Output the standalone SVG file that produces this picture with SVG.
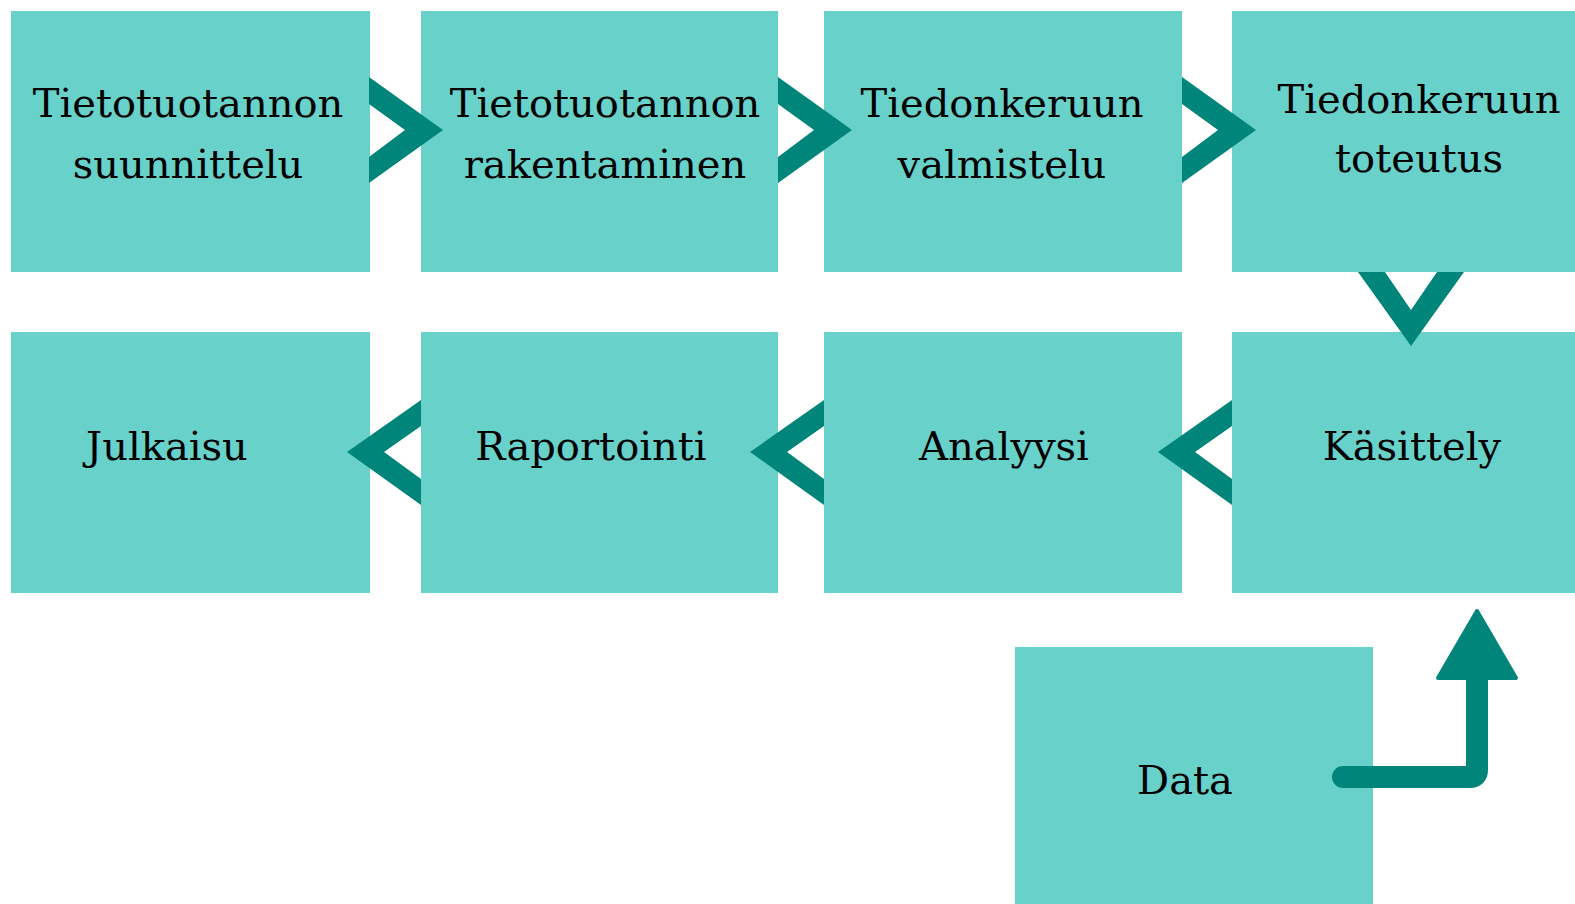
<svg xmlns="http://www.w3.org/2000/svg" width="1575" height="904" viewBox="0 0 1575 904">
<style>
.box{fill:#67d1ca}
.lbl{font-family:"DejaVu Serif","Liberation Serif",serif;font-size:40px;fill:#000;text-anchor:middle}
.chev{fill:#00857a}
.conn{fill:none;stroke:#00857a;stroke-width:22}
</style>
<rect width="1575" height="904" fill="#ffffff"/>
<g id="n1"><rect class="box" x="11" y="11" width="359" height="261"/><text class="lbl" x="188" y="117">Tietotuotannon</text><text class="lbl" x="188" y="178">suunnittelu</text></g>
<g id="n2"><rect class="box" x="421" y="11" width="357" height="261"/><text class="lbl" x="605" y="117">Tietotuotannon</text><text class="lbl" x="605" y="178">rakentaminen</text></g>
<g id="n3"><rect class="box" x="824" y="11" width="358" height="261"/><text class="lbl" x="1002" y="117">Tiedonkeruun</text><text class="lbl" x="1002" y="178">valmistelu</text></g>
<g id="n4"><rect class="box" x="1232" y="11" width="343" height="261"/><text class="lbl" x="1419" y="113">Tiedonkeruun</text><text class="lbl" x="1419" y="172">toteutus</text></g>
<g id="n5"><rect class="box" x="1232" y="332" width="343" height="261"/><text class="lbl" x="1412" y="460">Käsittely</text></g>
<g id="n6"><rect class="box" x="824" y="332" width="358" height="261"/><text class="lbl" x="1004" y="460">Analyysi</text></g>
<g id="n7"><rect class="box" x="421" y="332" width="357" height="261"/><text class="lbl" x="591" y="460">Raportointi</text></g>
<g id="n8"><rect class="box" x="11" y="332" width="359" height="261"/><text class="lbl" x="167" y="460">Julkaisu</text></g>
<g id="n9"><rect class="box" x="1015" y="647" width="358" height="257"/><text class="lbl" x="1185" y="794">Data</text></g>
<g id="connectors">
<polygon class="chev" points="369,77 443,130 369,183 369,157 405,130 369,104"/>
<polygon class="chev" points="778,77 852,130 778,183 778,157 814,130 778,104"/>
<polygon class="chev" points="1182,77 1256,130 1182,183 1182,157 1218,130 1182,104"/>
<polygon class="chev" points="1358,272 1411,346 1464,272 1437,272 1411,310 1385,272"/>
<polygon class="chev" points="1232,400 1158,452 1232,505 1232,479 1195,452 1232,426"/>
<polygon class="chev" points="824,400 750,452 824,505 824,479 787,452 824,426"/>
<polygon class="chev" points="421,400 347,452 421,505 421,479 384,452 421,426"/>
<path class="conn" d="M1343,777 H1470 Q1477,777 1477,770 V676" stroke-linecap="round"/>
<polygon class="chev" points="1438,678 1477,611 1516,678" stroke="#00857a" stroke-width="4" stroke-linejoin="round"/>
</g>
</svg>
